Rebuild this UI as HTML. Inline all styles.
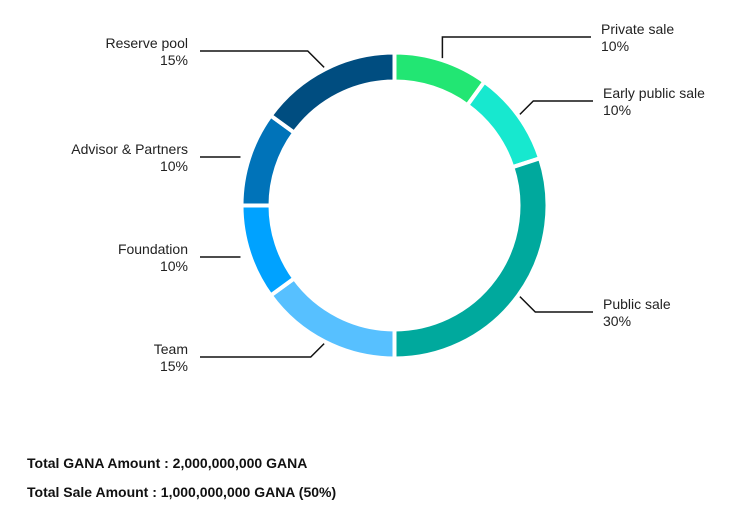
<!DOCTYPE html>
<html><head><meta charset="utf-8"><style>
body{margin:0;background:#fff;width:731px;height:515px;overflow:hidden;font-family:"Liberation Sans",sans-serif}
svg{position:absolute;left:0;top:0}
.t{font-size:14px;fill:#222}
.b{font-size:14px;font-weight:bold;fill:#111}
</style></head><body>
<svg width="731" height="515">
<g id="slices"></g>
<g id="leaders" stroke="#111" stroke-width="1.5" fill="none"></g>
<g id="labels"></g>
<text class="b" x="27" y="468">Total GANA Amount : 2,000,000,000 GANA</text>
<text class="b" x="27" y="497">Total Sale Amount : 1,000,000,000 GANA (50%)</text>
</svg>
<script>
const categories=["Private sale","Early public sale","Public sale","Team","Foundation","Advisor & Partners","Reserve pool"];
const values=[10,10,30,15,10,10,15];
const colors=["#22e673","#17e8cf","#00a99d","#57c0ff","#00a2ff","#0073b9","#004d80"];
const cx=394.5,cy=205.5,R=153,r=124;
const total=values.reduce((a,b)=>a+b,0);
const ns="http://www.w3.org/2000/svg";
function pt(a,rad){return [cx+rad*Math.sin(a),cy-rad*Math.cos(a)];}
let acc=0;
const g=document.getElementById('slices'),lg=document.getElementById('leaders'),tg=document.getElementById('labels');
const leaderSpec=[
 {side:1,y:37,tx:601},{side:1,y:101,tx:603},{side:1,y:312,tx:603},
 {side:-1,y:357,tx:188},{side:-1,y:257,tx:188,flat:1},{side:-1,y:157,tx:188,flat:1},{side:-1,y:51,tx:188}];
values.forEach((v,i)=>{
 const a0=acc/total*2*Math.PI,a1=(acc+v)/total*2*Math.PI;acc+=v;
 const [x0,y0]=pt(a0,R),[x1,y1]=pt(a1,R),[x2,y2]=pt(a1,r),[x3,y3]=pt(a0,r);
 const lf=(a1-a0)>Math.PI?1:0;
 const p=document.createElementNS(ns,'path');
 p.setAttribute('d',`M${x0},${y0}A${R},${R} 0 ${lf} 1 ${x1},${y1}L${x2},${y2}A${r},${r} 0 ${lf} 0 ${x3},${y3}Z`);
 p.setAttribute('fill',colors[i]);p.setAttribute('stroke','#fff');p.setAttribute('stroke-width','4');
 
 
 g.appendChild(p);
 const s=leaderSpec[i];
 const am=(a0+a1)/2;
 let [ex,ey]=pt(am,R+2);
 let d;
 if(s.flat){ d=`M${cx-R-1},${s.y}L${s.tx+12},${s.y}`;}
 else if(i===0){ d=`M${ex},${ey}L${ex},${s.y}L${s.tx-10},${s.y}`;}
 else { const ky=s.y, kx=ex+s.side*Math.abs(ky-ey); d=`M${ex},${ey}L${kx},${ky}L${s.side>0?s.tx-10:s.tx+12},${ky}`;}
 const l=document.createElementNS(ns,'path');l.setAttribute('d',d);
 
 
 lg.appendChild(l);
 const ty=s.y-3;
 [categories[i],v+'%'].forEach((txt,k)=>{
  const t=document.createElementNS(ns,'text');t.setAttribute('class','t');
  t.setAttribute('x',s.tx);t.setAttribute('y',ty+k*17);
  t.setAttribute('text-anchor',s.side>0?'start':'end');t.textContent=txt;
  
  
  tg.appendChild(t);
 });
});
</script>
</body></html>
